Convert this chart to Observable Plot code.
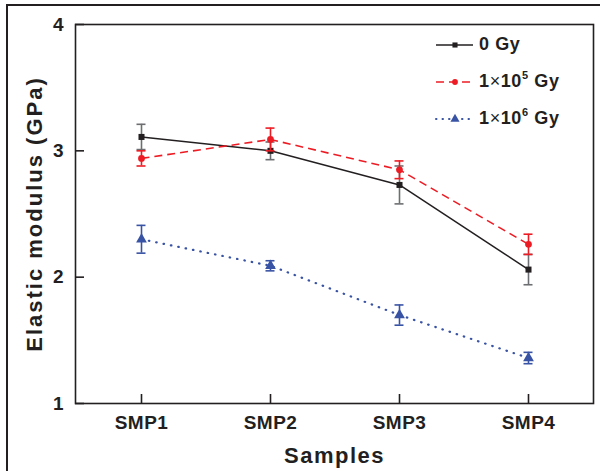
<!DOCTYPE html>
<html>
<head>
<meta charset="utf-8">
<script src="https://cdn.jsdelivr.net/npm/d3@7"></script>
<script src="https://cdn.jsdelivr.net/npm/@observablehq/plot@0.6"></script>
<style>
  html, body { margin: 0; padding: 0; background: #fff; }
  #wrap { position: relative; width: 600px; height: 471px; overflow: hidden; font-family: "Liberation Sans", Arial, sans-serif; }
  #frameL { position: absolute; left: 6px; top: 4px; width: 2px; height: 480px; background: #231f20; }
  #frameT { position: absolute; left: 6px; top: 4px; width: 600px; height: 2px; background: #231f20; }
  #legend { position: absolute; left: 434px; top: 26px; font-weight: bold; font-size: 18px; letter-spacing: 0.6px; color: #231f20; }
  .row { display: flex; align-items: center; height: 37px; }
  .row svg { margin-right: 5px; }
  sup { font-size: 11px; vertical-align: 8px; line-height: 0; }
  .x { font-weight: normal; }
</style>
</head>
<body>
<div id="wrap">
  <div id="chart"></div>
  <div id="frameL"></div>
  <div id="frameT"></div>
  <div id="legend"></div>
</div>
<script>
const samples = ["SMP1", "SMP2", "SMP3", "SMP4"];
const seriesNames = ["0 Gy", "1x10^5 Gy", "1x10^6 Gy"];
const mean0 = [3.11, 3.00, 2.73, 2.06];
const err0 = [0.10, 0.07, 0.15, 0.12];
const mean5 = [2.94, 3.09, 2.85, 2.26];
const err5 = [0.06, 0.09, 0.07, 0.08];
const mean6 = [2.30, 2.09, 1.70, 1.36];
const err6 = [0.11, 0.04, 0.08, 0.045];
const yTicks = [1, 2, 3, 4];

const colors = ["#231f20", "#ed1c24", "#3953a4"];
const barColors = ["#6d6e71", "#ed1c24", "#3953a4"];
const symbols = ["square", "circle", "triangle"];
const dashes = [null, "8,5", "0.5,7"];
const widths = [1.5, 1.6, 2.2];

const W = 600, H = 471, mL = 75, mR = 7, mT = 24, mB = 68, tickLen = 9;
const innerW = W - mL - mR, innerH = H - mT - mB;

const means = [mean0, mean5, mean6];
const errs = [err0, err5, err6];
const data = [];
seriesNames.forEach((s, i) => samples.forEach((smp, j) => {
  data.push({series: s, si: i, sample: smp, v: means[i][j], lo: means[i][j] - errs[i][j], hi: means[i][j] + errs[i][j]});
}));

const marks = [];
seriesNames.forEach((s, i) => {
  const d = data.filter(r => r.si === i);
  marks.push(Plot.line(d, {x: "sample", y: "v", stroke: colors[i], strokeWidth: widths[i], strokeDasharray: dashes[i], strokeLinecap: i === 2 ? "round" : "butt"}));
  marks.push(Plot.ruleX(d, {x: "sample", y1: "lo", y2: "hi", stroke: barColors[i], strokeWidth: 1.6}));
  marks.push(Plot.ruleY(d, {x1: "sample", x2: "sample", y: "lo", stroke: barColors[i], strokeWidth: 1.6, insetLeft: -4.5, insetRight: -4.5}));
  marks.push(Plot.ruleY(d, {x1: "sample", x2: "sample", y: "hi", stroke: barColors[i], strokeWidth: 1.6, insetLeft: -4.5, insetRight: -4.5}));
  marks.push(Plot.dot(d, {x: "sample", y: "v", symbol: () => symbols[i], fill: colors[i], stroke: "none", r: i === 2 ? 4 : 3.4}));
});

const chart = Plot.plot({
  width: W,
  height: H,
  marginLeft: mL,
  marginRight: mR,
  marginTop: mT,
  marginBottom: mB,
  style: {fontFamily: "'Liberation Sans', Arial, sans-serif", background: "transparent", color: "#231f20"},
  x: {type: "point", domain: samples, padding: 0.5},
  y: {domain: [1, 4]},
  marks: [
    Plot.axisY({ticks: yTicks, tickSize: 0, tickPadding: 12, tickFormat: "d",
      label: "Elastic modulus (GPa)", labelAnchor: "center", labelArrow: "none", labelOffset: 49}),
    Plot.axisX({tickSize: 0, tickPadding: 12,
      label: "Samples", labelAnchor: "center", labelArrow: "none", labelOffset: 59}),
    ...marks,
    Plot.frame({stroke: "#231f20", strokeWidth: 1.6}),
    // inward tick marks at the frame edges
    Plot.ruleY(yTicks, {y: d => d, insetRight: innerW - tickLen, stroke: "#231f20", strokeWidth: 1.6}),
    Plot.ruleX(samples, {x: d => d, insetTop: innerH - tickLen, stroke: "#231f20", strokeWidth: 1.6})
  ]
});
function setFont(sel, size, spacing) {
  chart.querySelectorAll(sel).forEach(g => {
    g.setAttribute("font-size", size);
    g.setAttribute("font-weight", "bold");
    g.querySelectorAll("text").forEach(t => {
      t.style.fontSize = size + "px"; t.style.fontWeight = "bold"; t.style.letterSpacing = spacing + "px";
    });
  });
}
setFont("[aria-label='y-axis tick label']", 19, 0);
setFont("[aria-label='x-axis tick label']", 19, 0.5);
setFont("[aria-label='y-axis label']", 22, 2);
setFont("[aria-label='x-axis label']", 22, 1.5);
document.getElementById("chart").appendChild(chart);

// legend
const legend = document.getElementById("legend");
const labelsHtml = ["0 Gy", '1<span class="x">×</span>10<sup>5</sup> Gy', '1<span class="x">×</span>10<sup>6</sup> Gy'];
seriesNames.forEach((s, i) => {
  const row = document.createElement("div");
  row.className = "row";
  const sw = d3.create("svg").attr("width", 40).attr("height", 12);
  sw.append("line").attr("x1", 2).attr("x2", 39).attr("y1", 6).attr("y2", 6)
    .attr("stroke", colors[i]).attr("stroke-width", i === 2 ? 2 : widths[i])
    .attr("stroke-dasharray", i === 2 ? "0.5,6" : dashes[i]).attr("stroke-linecap", i === 2 ? "round" : "butt");
  const symMap = {square: d3.symbolSquare, circle: d3.symbolCircle, triangle: d3.symbolTriangle};
  sw.append("path").attr("transform", "translate(21,6)")
    .attr("d", d3.symbol(symMap[symbols[i]], i === 2 ? 36 : 26)()).attr("fill", colors[i]);
  row.appendChild(sw.node());
  const t = document.createElement("span");
  t.innerHTML = labelsHtml[i];
  row.appendChild(t);
  legend.appendChild(row);
});
</script>
</body>
</html>
